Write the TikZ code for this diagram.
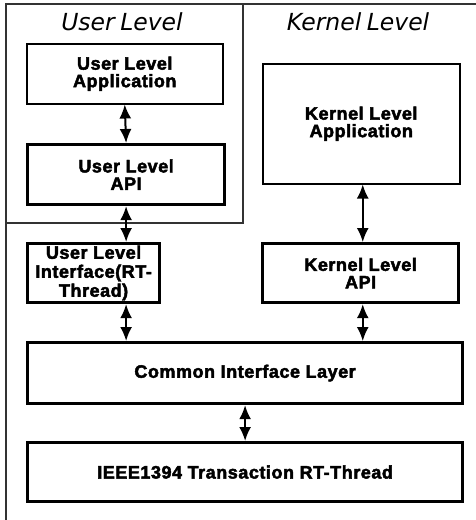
\documentclass[tikz,border=0pt]{standalone}
\usepackage{fontspec}
\setmainfont{DejaVu Sans}
\newfontfamily\layerfont[FakeBold=2.6, LetterSpace=3]{Liberation Sans Bold}
\usetikzlibrary{arrows.meta}
\begin{document}
\begin{tikzpicture}[x=1pt,y=-1pt,
  frame/.style={draw=black!80, line width=1.3pt},
  thinbox/.style={draw, line width=1.5pt, anchor=north west, align=center,
    inner sep=0pt, font=\layerfont\fontsize{18}{17.5}\selectfont},
  thickbox/.style={thinbox, line width=3.2pt},
  title/.style={anchor=base, font=\itshape\fontsize{23.5}{26}\selectfont},
  link/.style={line width=2pt,
    {Latex[length=14pt,width=12pt]}-{Latex[length=14pt,width=12pt]}}]
\useasboundingbox (0,0) rectangle (475,520);
\fill[white] (0,0) rectangle (475,520);

% kernel-level frame and user-level box
\draw[frame] (476,4) -- (6,4) -- (6,521);
\draw[frame] (6,4) rectangle (243,223);

% region titles
\node[title] (tuser) at (122,30) {User\hspace{-2pt} Level};
\node[title] (tkern) at (358,30) {Kernel\hspace{-2pt} Level};

% layers
\node[thinbox, minimum width=196, minimum height=60] (ua) at (26,43)
  {User Level\\Application};
\node[thickbox, minimum width=197, minimum height=60] (uapi) at (26,143)
  {User Level\\API};
\node[thinbox, minimum width=197, minimum height=120] (ka) at (262,63)
  {Kernel Level\\Application};
\node[thickbox, minimum width=132, minimum height=59,
  font=\layerfont\fontsize{18}{19}\selectfont] (ui) at (26,242)
  {User Level\\Interface(RT-\\Thread)};
\node[thickbox, minimum width=196, minimum height=59] (kapi) at (261,242)
  {Kernel Level\\API};
\node[thickbox, minimum width=435, minimum height=61] (cil) at (26,341)
  {Common Interface Layer};
\node[thickbox, minimum width=435, minimum height=59] (ieee) at (26,441)
  {IEEE1394 Transaction RT-Thread};

% connectors
\draw[link] (ua.south) -- (uapi.north);
\draw[link] (uapi.south) -- (uapi.south |- ui.north);
\draw[link] ([xshift=1.5pt]ka.south) -- ([xshift=1.5pt]ka.south |- kapi.north);
\draw[link] (uapi.south |- ui.south) -- (uapi.south |- cil.north);
\draw[link] ([xshift=1.5pt]ka.south |- kapi.south) -- ([xshift=1.5pt]ka.south |- cil.north);
\draw[link] (cil.south) -- (ieee.north);
\end{tikzpicture}
\end{document}
